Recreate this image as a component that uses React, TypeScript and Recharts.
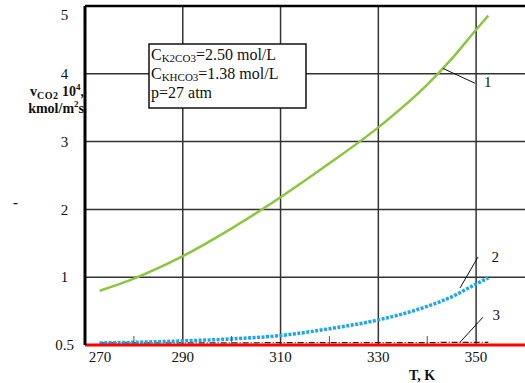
import { LineChart, Line, XAxis, YAxis, CartesianGrid, ReferenceLine, ReferenceDot } from "recharts";

// Temperature, K
const temps = [273, 280, 290, 300, 310, 320, 330, 340, 345, 350, 352.5];
// CO2 absorption rate, 10^4 kmol/(m2 s)
const rate1 = [0.8, 0.98, 1.31, 1.72, 2.18, 2.68, 3.21, 3.84, 4.22, 4.65, 4.86];
const rate2 = [0.03, 0.04, 0.06, 0.09, 0.14, 0.24, 0.37, 0.57, 0.71, 0.9, 0.99];
const rate3 = [0.03, 0.03, 0.03, 0.03, 0.035, 0.035, 0.035, 0.035, 0.04, 0.04, 0.04];

const xMajor = [270, 290, 310, 330, 350];
const xMinor = [280, 300, 320, 340];
const yTicks = [0, 1, 2, 3, 4, 5];
const yTickLabels = ["0.5", "1", "2", "3", "4", "5"];

const data = temps.map((T, i) => ({ T, r1: rate1[i], r2: rate2[i], r3: rate3[i] }));

const FONT = '"Liberation Serif", "Times New Roman", "DejaVu Serif", serif';
const GRID = "#333";
const serif = { fontFamily: FONT };

const XTick = (props: any) => {
  const { x, y, payload } = props;
  const v = payload.value;
  if (!xMajor.includes(v)) {
    return <line x1={x} y1={y - 1} x2={x} y2={y - 9} stroke="#555" strokeWidth={1} />;
  }
  // first label is nudged right so it clears the y-axis labels
  const shift = v === xMajor[0] ? 15 : 0;
  return (
    <text x={x + shift} y={y + 12} dy="0.35em" textAnchor="middle" style={serif} fontSize={15} fill="#111">
      {v}
    </text>
  );
};

const YTick = (props: any) => {
  const { x, y, payload } = props;
  const i = yTicks.indexOf(payload.value);
  const drop = payload.value === yTicks[yTicks.length - 1] ? 9 : 0;
  return (
    <text x={x - 20.5} y={y + drop} dy="0.35em" textAnchor="middle" style={serif} fontSize={15} fill="#111">
      {yTickLabels[i]}
    </text>
  );
};

const callout = { fontFamily: FONT, fontSize: 15, fill: "#111" };

export default function App() {
  return (
    <div style={{ position: "absolute", left: 0, top: 0, width: 525, height: 383, background: "#fff", fontFamily: FONT }}>
      <LineChart width={525} height={383} data={data} margin={{ top: 6, right: 0, bottom: 0, left: 0 }}>
        <CartesianGrid vertical={false} stroke={GRID} strokeWidth={1.5} />
        {xMajor.slice(1).map((v) => (
          <ReferenceLine key={v} x={v} stroke={GRID} strokeWidth={1.5} />
        ))}
        <ReferenceLine y={5} stroke="#000" strokeWidth={2.5} />
        <XAxis
          dataKey="T"
          type="number"
          domain={[270, 360]}
          ticks={[...xMajor, ...xMinor].sort((a, b) => a - b)}
          interval={0}
          height={38}
          tickSize={0}
          tickMargin={0}
          tickLine={false}
          tick={<XTick />}
          axisLine={{ stroke: "#ff0000", strokeWidth: 3 }}
        />
        <YAxis
          type="number"
          domain={[0, 5]}
          ticks={yTicks}
          interval={0}
          width={85}
          tickSize={0}
          tickMargin={0}
          tickLine={false}
          tick={<YTick />}
          axisLine={{ stroke: "#000", strokeWidth: 3 }}
        />
        <Line type="monotone" dataKey="r3" stroke="#222" strokeWidth={1.2} strokeDasharray="6 2 1 2" dot={false} isAnimationActive={false} />
        <Line type="monotone" dataKey="r2" stroke="#1ea7e8" strokeWidth={3.5} strokeDasharray="3 1.5" dot={false} isAnimationActive={false} />
        <Line type="monotone" dataKey="r1" stroke="#8cc63f" strokeWidth={2.5} dot={false} isAnimationActive={false} />

        <ReferenceLine segment={[{ x: 343.2, y: 4.08 }, { x: 349.8, y: 3.86 }]} stroke="#111" strokeWidth={1} />
        <ReferenceLine segment={[{ x: 350.4, y: 1.3 }, { x: 346.7, y: 0.84 }]} stroke="#111" strokeWidth={1} />
        <ReferenceLine segment={[{ x: 351.4, y: 0.41 }, { x: 346.7, y: 0.04 }]} stroke="#111" strokeWidth={1} />
        <ReferenceDot x={352.4} y={3.88} r={0} stroke="none" fill="none" label={{ value: "1", position: "center", ...callout }} />
        <ReferenceDot x={353.9} y={1.31} r={0} stroke="none" fill="none" label={{ value: "2", position: "center", ...callout }} />
        <ReferenceDot x={354.1} y={0.44} r={0} stroke="none" fill="none" label={{ value: "3", position: "center", ...callout }} />
      </LineChart>

      <svg width={525} height={383} style={{ position: "absolute", left: 0, top: 0, pointerEvents: "none", ...serif }}>
        {/* y-axis title */}
        <text x={84} y={96} textAnchor="end" style={serif} fontSize={14} fontWeight="bold" fill="#111">
          v<tspan fontSize={10} dy={3} letterSpacing={0.5}>CO2</tspan>
          <tspan dy={-3}> 10</tspan>
          <tspan fontSize={9} dy={-6}>4</tspan>
          <tspan dy={6}>,</tspan>
        </text>
        <text x={84} y={113} textAnchor="end" style={serif} fontSize={14} fontWeight="bold" fill="#111">
          kmol/m<tspan fontSize={9} dy={-6}>2</tspan>
          <tspan dy={6}>s</tspan>
        </text>
        <text x={13} y={207} style={serif} fontSize={15} fontWeight="bold" fill="#111">-</text>

        {/* x-axis title */}
        <text x={422} y={380} textAnchor="middle" style={serif} fontSize={14} fontWeight="bold" fill="#111">
          T, K
        </text>

        {/* conditions box */}
        <rect x={149} y={44} width={157} height={64} fill="#fff" stroke="#111" strokeWidth={1.5} />
        <text x={151} y={60} style={serif} fontSize={16} fill="#111">
          C<tspan fontSize={11} dy={2}>K2CO3</tspan>
          <tspan dy={-2}>=2.50 mol/L</tspan>
        </text>
        <text x={151} y={79} style={serif} fontSize={16} fill="#111">
          C<tspan fontSize={11} dy={2}>KHCO3</tspan>
          <tspan dy={-2}>=1.38 mol/L</tspan>
        </text>
        <text x={151} y={98} style={serif} fontSize={16} fill="#111">
          p=27 atm
        </text>
      </svg>
    </div>
  );
}
